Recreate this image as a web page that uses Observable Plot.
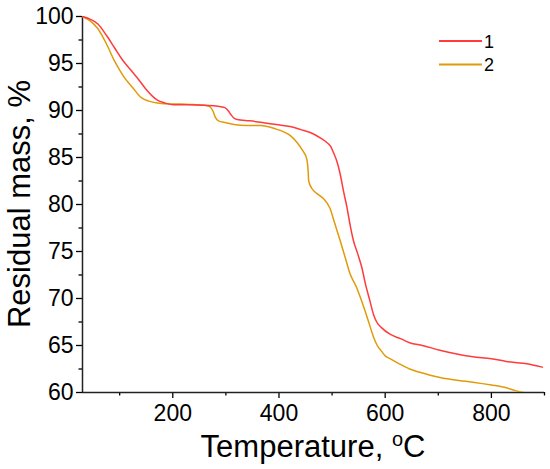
<!DOCTYPE html>
<html>
<head>
<meta charset="utf-8">
<script src="https://cdn.jsdelivr.net/npm/d3@7"></script>
<script src="https://cdn.jsdelivr.net/npm/@observablehq/plot@0.6"></script>
<style>
  html, body { margin: 0; padding: 0; background: white; }
</style>
</head>
<body>
<div id="chart"></div>
<script>
// Series 1 (red)
const temp1 = [30,45,59,75,90,105,121,137,152,162,171,185,202,230,260,285,298,304,309,315,321,345,371,395,421,445,465,480,490,497,502,509,515,522,528,534,540,548,556,563,571,578,584,593,609,630,646,670,703,735,765,800,828,860,880,896];
const mass1 = [100,99.7,99.2,98.0,96.7,95.4,94.3,93.2,92.1,91.5,91.1,90.8,90.6,90.6,90.55,90.45,90.3,90.0,89.6,89.2,89.05,88.9,88.7,88.5,88.3,87.9,87.5,87.0,86.6,86.2,85.6,84.6,83.3,81.3,79.7,77.8,76.2,74.8,73.3,71.5,69.8,68.3,67.5,66.9,66.2,65.7,65.3,65.0,64.5,64.1,63.8,63.6,63.3,63.1,62.9,62.7];
// Series 2 (orange)
const temp2 = [30,45,59,75,90,100,109,125,140,155,171,195,215,245,265,271,276,280,286,300,315,340,365,393,410,422,434,445,452,455,456,462,473,484,496,505,515,525,534,546,554,562,570,578,585,593,600,609,625,646,675,703,735,765,800,828,845,860];
const mass2 = [100,99.5,98.7,97.1,95.3,94.3,93.5,92.4,91.4,91.0,90.8,90.7,90.7,90.6,90.5,90.35,89.9,89.3,88.9,88.7,88.5,88.4,88.4,88.05,87.7,87.3,86.6,85.7,84.9,83.5,82.5,81.7,81.1,80.6,79.6,78.0,76.2,74.3,72.6,71.2,70.0,68.7,67.3,65.9,65.0,64.4,63.9,63.6,63.1,62.5,62.0,61.6,61.3,61.1,60.8,60.5,60.2,60.0];

const seriesNames = ["1", "2"];
const seriesColors = ["#ff3b3b", "#e09b0a"];

const xDomain = [30, 900];
const yDomain = [60, 100];
const xTicks = [200, 400, 600, 800];
const xMinor = [100, 300, 500, 700, 900];
const yTicks = [60, 65, 70, 75, 80, 85, 90, 95, 100];
const yMinor = [62.5, 67.5, 72.5, 77.5, 82.5, 87.5, 92.5, 97.5];

const xTitle = "Temperature, ";
const xTitleSup = "o";
const xTitleEnd = "C";
const yTitle = "Residual mass, %";

const s1 = temp1.map((t, i) => ({t, m: mass1[i]}));
const s2 = temp2.map((t, i) => ({t, m: mass2[i]}));

const font = "'Liberation Sans', Arial, sans-serif";

const svg = Plot.plot({
  width: 550,
  height: 469,
  marginLeft: 82,
  marginRight: 6,
  marginTop: 16,
  marginBottom: 77,
  style: {fontFamily: font, background: "white", color: "black"},
  x: {domain: xDomain},
  y: {domain: yDomain},
  marks: [
    Plot.axisY({ticks: yTicks, tickSize: 6, tickPadding: 3, fontSize: 23, label: null, strokeWidth: 1.3}),
    Plot.axisY({ticks: yMinor, tickSize: 3.5, text: null, label: null, strokeWidth: 1.3}),
    Plot.axisX({ticks: xTicks, tickSize: 6, tickPadding: 6, fontSize: 23, label: null, strokeWidth: 1.3}),
    Plot.axisX({ticks: xMinor, tickSize: 3.5, text: null, label: null, strokeWidth: 1.3}),
    Plot.ruleX([xDomain[0]], {stroke: "#222", strokeWidth: 1.5}),
    Plot.ruleY([yDomain[0]], {stroke: "#222", strokeWidth: 1.5}),
    Plot.line(s2, {x: "t", y: "m", stroke: seriesColors[1], strokeWidth: 1.5, curve: "monotone-x", clip: true}),
    Plot.line(s1, {x: "t", y: "m", stroke: seriesColors[0], strokeWidth: 1.5, curve: "monotone-x", clip: true})
  ]
});

const root = d3.select(svg);

// Y axis title
root.append("text")
  .attr("transform", "translate(30,204) rotate(-90)")
  .attr("text-anchor", "middle")
  .style("font-family", font)
  .style("font-size", "31px")
  .attr("fill", "black")
  .text(yTitle);

// X axis title with superscript
const xt = root.append("text")
  .attr("x", 313)
  .attr("y", 457)
  .attr("text-anchor", "middle")
  .style("font-family", font)
  .style("font-size", "31px")
  .attr("fill", "black");
xt.append("tspan").text(xTitle);
xt.append("tspan").attr("dy", -11).style("font-size", "20px").text(xTitleSup);
xt.append("tspan").attr("dy", 11).text(xTitleEnd);

// Legend
const legendY = [41, 64.5];
seriesNames.forEach((name, i) => {
  root.append("line")
    .attr("x1", 439).attr("x2", 482)
    .attr("y1", legendY[i]).attr("y2", legendY[i])
    .attr("stroke", seriesColors[i])
    .attr("stroke-width", 1.8);
  root.append("text")
    .attr("x", 489)
    .attr("y", legendY[i] + 6.5)
    .style("font-family", font)
    .style("font-size", "18px")
    .attr("fill", "black")
    .text(name);
});

document.getElementById("chart").appendChild(svg);
</script>
</body>
</html>
